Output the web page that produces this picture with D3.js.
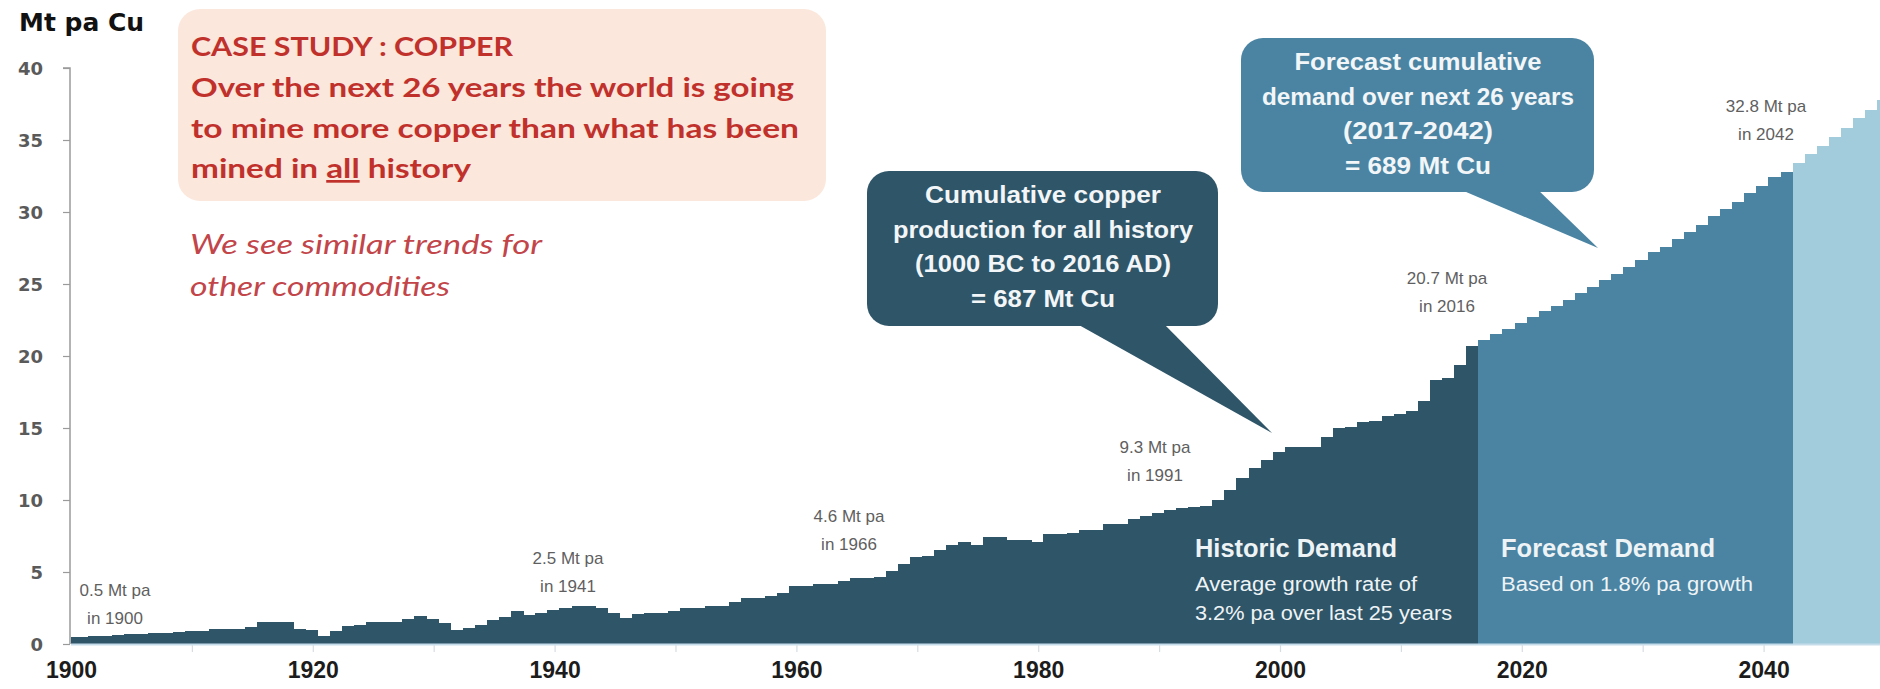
<!DOCTYPE html>
<html>
<head>
<meta charset="utf-8">
<script src="https://cdn.jsdelivr.net/npm/d3@7"></script>
<style>
  html, body { margin: 0; padding: 0; background: #ffffff; overflow: hidden; }
  svg { display: block; }
</style>
</head>
<body>
<svg id="chart" width="1880" height="689"></svg>
<script>
// ---------------- DATA ----------------
const histStartYear = 1900;   // historic demand 1900..2016
const histValues = [
  0.5, 0.52, 0.55, 0.58, 0.62, 0.66, 0.7, 0.74, 0.78, 0.85,
  0.88, 0.9, 1.02, 1.04, 1.05, 1.15, 1.5, 1.5, 1.5, 1.05,
  1.0, 0.55, 0.9, 1.25, 1.3, 1.55, 1.55, 1.55, 1.75, 1.95,
  1.72, 1.45, 0.95, 1.1, 1.3, 1.65, 1.85, 2.3, 1.98, 2.15,
  2.38, 2.5, 2.62, 2.62, 2.5, 2.15, 1.8, 2.05, 2.15, 2.15,
  2.3, 2.5, 2.52, 2.62, 2.65, 2.9, 3.2, 3.22, 3.3, 3.55,
  4.0, 4.02, 4.15, 4.2, 4.38, 4.6, 4.6, 4.62, 5.05, 5.55,
  6.05, 6.1, 6.5, 6.9, 7.1, 6.85, 7.4, 7.4, 7.25, 7.25,
  7.1, 7.65, 7.65, 7.7, 7.95, 7.95, 8.3, 8.3, 8.65, 8.9,
  9.1, 9.3, 9.45, 9.5, 9.6, 10.0, 10.7, 11.5, 12.2, 12.8,
  13.3, 13.7, 13.7, 13.7, 14.4, 15.0, 15.1, 15.4, 15.5, 15.8,
  16.0, 16.2, 16.9, 18.3, 18.5, 19.4, 20.7
];
const forecastStartYear = 2017; // forecast demand 2017..2042
const forecastValues = [
  21.1, 21.5, 21.9, 22.3, 22.7, 23.1, 23.5, 23.9, 24.4, 24.8,
  25.3, 25.7, 26.2, 26.7, 27.2, 27.6, 28.1, 28.6, 29.1, 29.7,
  30.2, 30.7, 31.3, 31.8, 32.4, 32.8
];
const extStartYear = 2043;      // beyond forecast window 2043..2050
const extValues = [33.4, 34.0, 34.6, 35.2, 35.8, 36.5, 37.1, 37.8];

const yTicks = [0, 5, 10, 15, 20, 25, 30, 35, 40];
const xTickLabels = [1900, 1920, 1940, 1960, 1980, 2000, 2020, 2040];
const xMinorTicks = [1910, 1920, 1930, 1940, 1950, 1960, 1970, 1980, 1990, 2000, 2010, 2020, 2030, 2040];

const pointLabels = [
  { year: 1900, lines: ["0.5 Mt pa", "in 1900"] },
  { year: 1941, lines: ["2.5 Mt pa", "in 1941"] },
  { year: 1966, lines: ["4.6 Mt pa", "in 1966"] },
  { year: 1991, lines: ["9.3 Mt pa", "in 1991"] },
  { year: 2016, lines: ["20.7 Mt pa", "in 2016"] },
  { year: 2042, lines: ["32.8 Mt pa", "in 2042"] }
];
const caseLines = ["CASE  STUDY : COPPER",
  "Over the next 26 years the world is going",
  "to mine more copper than what has been"];
const italicLines = ["We see similar trends for", "other commodities"];
const histCallout = ["Cumulative copper", "production for all history", "(1000 BC to 2016 AD)", "= 687 Mt Cu"];
const foreCallout = ["Forecast cumulative", "demand over next 26 years", "(2017-2042)", "= 689 Mt Cu"];

// ---------------- STYLE / LAYOUT ----------------
const C = {
  hist: "#2f5568", fore: "#4a84a2", ext: "#a2cbdc",
  red: "#c1312c", redIt: "#c2454a", grey: "#5f5f5f"
};
const svg = d3.select("#chart");
const x = d3.scaleLinear().domain([1900, 2050]).range([71, 1884.5]);
const y = d3.scaleLinear().domain([0, 40]).range([644, 68]);

const toRows = (start, vals, cls) => vals.map((v, i) => ({ year: start + i, value: v, cls }));
const rows = [].concat(
  toRows(histStartYear, histValues, "hist"),
  toRows(forecastStartYear, forecastValues, "fore"),
  toRows(extStartYear, extValues, "ext")
);

svg.append("clipPath").attr("id", "plotclip")
  .append("rect").attr("x", x(1900)).attr("y", 0).attr("width", 1880 - x(1900)).attr("height", 689);

// bars
svg.append("g").attr("clip-path", "url(#plotclip)")
  .selectAll("rect").data(rows).join("rect")
  .attr("x", d => x(d.year - 0.6))
  .attr("width", d => x(d.year + 0.4) - x(d.year - 0.6) + 0.6)
  .attr("y", d => y(d.value))
  .attr("height", d => y(0) - y(d.value))
  .attr("fill", d => C[d.cls])
  .attr("shape-rendering", "crispEdges");

// baseline
svg.append("line").attr("x1", x(1900)).attr("x2", 1880).attr("y1", y(0) + 0.5).attr("y2", y(0) + 0.5)
  .attr("stroke", "#c5dcea").attr("stroke-width", 2);

// y axis
const yAxis = svg.append("g").attr("transform", `translate(${x(1900) - 1},0)`)
  .call(d3.axisLeft(y).tickValues(yTicks).tickSize(7).tickPadding(20));
yAxis.select(".domain").attr("stroke", "#9a9a9a").attr("stroke-width", 1.5)
  .attr("d", `M-7,${y(40)}H0V${y(0)}`);
yAxis.selectAll(".tick line").attr("stroke", "#9a9a9a").attr("stroke-width", 1.2);
yAxis.selectAll(".tick text")
  .attr("font-family", "DejaVu Sans, sans-serif").attr("font-weight", "bold")
  .attr("font-size", 18).attr("fill", "#5a5a5a").attr("dy", "0.36em");

// x minor ticks
const xAxis = svg.append("g").attr("transform", `translate(0,${y(0) + 1})`)
  .call(d3.axisBottom(x).tickValues(xMinorTicks).tickSize(7).tickFormat(""));
xAxis.select(".domain").remove();
xAxis.selectAll(".tick line").attr("stroke", "#d6dde2").attr("stroke-width", 1.2);

// x labels
const xLab = svg.append("g").attr("transform", `translate(0,${y(0)})`)
  .call(d3.axisBottom(x).tickValues(xTickLabels).tickSize(0).tickPadding(18).tickFormat(d3.format("d")));
xLab.select(".domain").remove();
xLab.selectAll(".tick text")
  .attr("font-family", "Liberation Sans, Arial, sans-serif").attr("font-weight", "bold")
  .attr("font-size", 23).attr("fill", "#1c1c1c");

// y unit title
svg.append("text").attr("x", 19).attr("y", 31)
  .attr("font-family", "DejaVu Sans, sans-serif").attr("font-weight", "bold")
  .attr("font-size", 25).attr("fill", "#111").text("Mt pa Cu");

// case study box
svg.append("rect").attr("x", 178).attr("y", 9).attr("width", 648).attr("height", 192)
  .attr("rx", 22).attr("fill", "#fbe7dc");
const cs = svg.append("g").attr("font-family", "Lato, 'Open Sans', sans-serif")
  .attr("font-weight", "bold").attr("font-size", 27).attr("fill", C.red);
const csBase = [56, 97, 138, 178];
const csWidths = [322, 603, 608];
caseLines.forEach((t, i) => {
  cs.append("text").attr("x", 191).attr("y", csBase[i])
    .attr("textLength", csWidths[i]).attr("lengthAdjust", "spacingAndGlyphs").text(t);
});
const l4 = cs.append("text").attr("x", 191).attr("y", csBase[3])
  .attr("textLength", 280).attr("lengthAdjust", "spacingAndGlyphs");
l4.append("tspan").text("mined in ");
l4.append("tspan").attr("text-decoration", "underline").text("all");
l4.append("tspan").text(" history");

const it = svg.append("g").attr("font-family", "Lato, 'Open Sans', sans-serif")
  .attr("font-style", "italic").attr("font-size", 27).attr("fill", C.redIt);
it.append("text").attr("x", 190).attr("y", 254).attr("textLength", 352).attr("lengthAdjust", "spacingAndGlyphs").text(italicLines[0]);
it.append("text").attr("x", 190).attr("y", 296).attr("textLength", 260).attr("lengthAdjust", "spacingAndGlyphs").text(italicLines[1]);

// callouts
function callout(box, tail, fill, lines, cx, base0, widths) {
  const g = svg.append("g");
  g.append("rect").attr("x", box[0]).attr("y", box[1]).attr("width", box[2] - box[0]).attr("height", box[3] - box[1])
    .attr("rx", 22).attr("fill", fill);
  g.append("path").attr("d", d3.line()(tail) + "Z").attr("fill", fill);
  lines.forEach((t, i) => {
    g.append("text").attr("x", cx).attr("y", base0 + i * 34.5)
      .attr("text-anchor", "middle")
      .attr("font-family", "Liberation Sans, Arial, sans-serif").attr("font-weight", "bold")
      .attr("font-size", 23).attr("fill", "#f2f6f8")
      .attr("textLength", widths[i]).attr("lengthAdjust", "spacingAndGlyphs")
      .text(t);
  });
}
callout([867, 171, 1218, 326], [[1070, 320], [1160, 320], [1272, 433]], C.hist,
  histCallout, 1043, 203, [236, 300, 256, 144]);
callout([1241, 38, 1594, 192], [[1452, 186], [1534, 186], [1598, 248]], C.fore,
  foreCallout, 1418, 70, [247, 312, 150, 146]);

// point labels
const pl = svg.append("g").attr("font-family", "Liberation Sans, Arial, sans-serif")
  .attr("font-size", 17).attr("fill", C.grey).attr("text-anchor", "middle");
const plPos = {1900: [115, 596], 1941: [568, 564], 1966: [849, 522], 1991: [1155, 453], 2016: [1447, 284], 2042: [1766, 112]};
pointLabels.forEach(p => {
  const [px, py] = plPos[p.year];
  p.lines.forEach((t, i) => pl.append("text").attr("x", px).attr("y", py + i * 27.5).text(t));
});

// region captions
const cap = svg.append("g").attr("font-family", "Liberation Sans, Arial, sans-serif").attr("fill", "#eef3f6");
cap.append("text").attr("x", 1195).attr("y", 557).attr("font-weight", "bold").attr("font-size", 25)
  .attr("textLength", 202).attr("lengthAdjust", "spacingAndGlyphs").text("Historic Demand");
cap.append("text").attr("x", 1195).attr("y", 591).attr("font-size", 20)
  .attr("textLength", 222).attr("lengthAdjust", "spacingAndGlyphs").text("Average growth rate of");
cap.append("text").attr("x", 1195).attr("y", 620).attr("font-size", 20)
  .attr("textLength", 257).attr("lengthAdjust", "spacingAndGlyphs").text("3.2% pa over last 25 years");
cap.append("text").attr("x", 1501).attr("y", 557).attr("font-weight", "bold").attr("font-size", 25)
  .attr("textLength", 214).attr("lengthAdjust", "spacingAndGlyphs").text("Forecast Demand");
cap.append("text").attr("x", 1501).attr("y", 591).attr("font-size", 20)
  .attr("textLength", 252).attr("lengthAdjust", "spacingAndGlyphs").text("Based on 1.8% pa growth");
</script>
</body>
</html>
